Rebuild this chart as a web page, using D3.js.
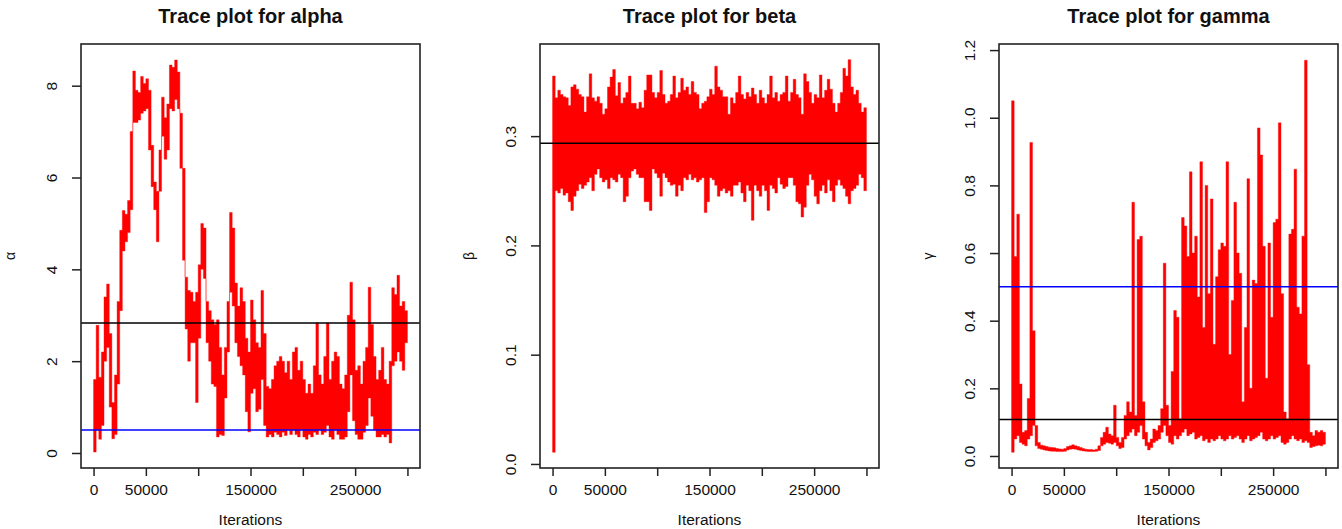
<!DOCTYPE html>
<html><head><meta charset="utf-8">
<script src="https://cdn.jsdelivr.net/npm/d3@7"></script>
<style>
body{margin:0;background:#fff}
svg{display:block}
text{font-family:"Liberation Sans",Arial,sans-serif;fill:#111}
</style>
</head><body>
<svg id="chart" width="1342" height="529"></svg>
<script>
// ---------------- DATA ----------------
const titles = ["Trace plot for alpha", "Trace plot for beta", "Trace plot for gamma"];
const yLabels = ["α", "β", "γ"];
const xLabel = "Iterations";
const xTicks = [0, 50000, 100000, 150000, 200000, 250000, 300000];
const xTickLabels = ["0", "50000", "", "150000", "", "250000", ""];
const alphaTicks = [0, 2, 4, 6, 8];
const alphaTickLabels = ["0", "2", "4", "6", "8"];
const betaTicks = [0, 0.1, 0.2, 0.3];
const betaTickLabels = ["0.0", "0.1", "0.2", "0.3"];
const gammaTicks = [0, 0.2, 0.4, 0.6, 0.8, 1.0, 1.2];
const gammaTickLabels = ["0.0", "0.2", "0.4", "0.6", "0.8", "1.0", "1.2"];

// iterations per bin; each bin holds the low and high of the trace inside it
const binIter = 2500;

const alphaLo = [0.02,0.5,0.3,0.6,2.0,2.3,1.0,0.31,0.4,1.5,
  3.1,4.4,4.6,4.8,5.3,7.2,7.2,7.25,7.4,7.45,
  7.5,6.6,5.8,5.3,4.6,5.7,6.9,6.4,6.6,7.5,
  7.45,7.7,7.5,6.2,4.2,2.7,2.0,2.4,2.4,1.1,
  2.5,4.0,3.8,2.4,2.0,1.5,1.45,0.35,0.4,0.38,
  1.2,2.2,3.5,3.2,2.4,2.1,1.9,1.7,0.9,0.46,
  1.3,1.4,0.9,0.95,1.6,0.6,0.35,0.4,0.35,0.45,
  0.4,0.35,0.45,0.38,0.5,0.4,0.5,0.4,0.35,0.5,
  0.35,0.3,0.4,0.35,0.45,0.4,0.5,0.4,0.45,0.6,
  0.35,0.3,0.5,0.4,0.3,0.3,0.35,0.9,1.7,0.7,
  0.4,0.3,0.3,0.45,0.6,1.2,0.8,0.5,0.35,0.35,
  0.4,0.35,0.4,0.22,1.9,2.0,2.2,2.0,1.8,2.4];
const alphaHi = [1.6,2.78,1.65,2.2,3.4,3.68,2.6,1.1,1.7,3.3,
  4.85,5.28,5.2,5.5,7.0,8.32,7.9,7.85,8.2,8.05,
  8.15,7.9,6.7,5.9,5.7,6.6,7.75,7.3,7.6,8.45,
  8.4,8.56,8.3,7.4,6.2,3.83,3.54,3.5,3.3,3.5,
  4.1,5.0,4.9,3.3,3.1,2.9,2.8,2.9,2.3,1.7,
  2.3,3.3,5.24,4.9,3.7,3.2,3.6,3.3,2.5,2.2,
  3.33,2.9,2.4,2.3,3.54,2.6,1.45,1.4,1.6,1.9,
  2.0,2.1,2.0,1.75,2.0,1.6,2.2,2.3,1.8,2.0,
  1.6,1.3,1.5,1.3,1.9,2.83,1.7,1.5,2.1,2.83,
  1.6,2.0,2.2,2.1,1.5,1.4,1.7,3.0,3.72,2.9,
  1.8,1.9,1.5,2.0,2.3,3.61,2.8,2.1,1.6,1.8,
  2.3,1.6,1.5,2.0,3.6,3.45,3.87,3.2,3.3,3.1];

const betaLo = [0.0107,0.25,0.248,0.252,0.246,0.248,0.24,0.232,0.245,0.25,
  0.256,0.252,0.255,0.258,0.262,0.25,0.265,0.27,0.262,0.258,
  0.26,0.252,0.262,0.26,0.258,0.265,0.262,0.24,0.245,0.262,
  0.268,0.27,0.265,0.262,0.262,0.24,0.24,0.232,0.27,0.266,
  0.262,0.245,0.266,0.262,0.258,0.255,0.256,0.245,0.255,0.25,
  0.262,0.26,0.265,0.26,0.262,0.258,0.26,0.262,0.23,0.24,
  0.262,0.26,0.255,0.245,0.25,0.252,0.248,0.25,0.245,0.255,
  0.255,0.258,0.248,0.24,0.255,0.25,0.223,0.255,0.25,0.245,
  0.255,0.25,0.232,0.255,0.252,0.248,0.262,0.256,0.252,0.254,
  0.262,0.262,0.255,0.24,0.238,0.226,0.235,0.255,0.265,0.26,
  0.245,0.238,0.25,0.255,0.248,0.26,0.25,0.24,0.255,0.26,
  0.255,0.252,0.245,0.238,0.25,0.252,0.255,0.265,0.262,0.25];
const betaHi = [0.355,0.335,0.342,0.338,0.336,0.335,0.328,0.345,0.347,0.343,
  0.338,0.336,0.322,0.336,0.357,0.335,0.332,0.336,0.33,0.32,
  0.325,0.345,0.354,0.361,0.337,0.349,0.33,0.335,0.34,0.355,
  0.33,0.33,0.325,0.331,0.326,0.342,0.356,0.356,0.34,0.335,
  0.34,0.36,0.338,0.33,0.332,0.338,0.355,0.335,0.34,0.353,
  0.342,0.345,0.338,0.35,0.34,0.338,0.325,0.33,0.332,0.336,
  0.343,0.338,0.364,0.345,0.342,0.336,0.336,0.32,0.335,0.33,
  0.34,0.355,0.338,0.334,0.34,0.336,0.344,0.338,0.33,0.342,
  0.335,0.33,0.338,0.355,0.335,0.34,0.332,0.338,0.34,0.355,
  0.332,0.34,0.352,0.338,0.335,0.32,0.357,0.35,0.34,0.33,
  0.338,0.335,0.356,0.335,0.342,0.352,0.343,0.33,0.322,0.33,
  0.34,0.362,0.355,0.37,0.345,0.338,0.342,0.33,0.322,0.326];

const gammaLo = [0.011,0.05,0.06,0.04,0.035,0.03,0.05,0.06,0.09,0.03,
  0.022,0.02,0.018,0.016,0.015,0.014,0.014,0.013,0.013,0.013,
  0.014,0.018,0.02,0.021,0.02,0.018,0.016,0.015,0.014,0.013,
  0.013,0.013,0.014,0.016,0.03,0.035,0.04,0.038,0.035,0.04,
  0.03,0.022,0.025,0.05,0.06,0.07,0.08,0.06,0.07,0.09,
  0.05,0.03,0.018,0.025,0.04,0.045,0.05,0.07,0.09,0.06,
  0.04,0.035,0.06,0.05,0.06,0.07,0.08,0.06,0.065,0.07,
  0.05,0.055,0.06,0.045,0.05,0.04,0.05,0.045,0.05,0.06,
  0.05,0.045,0.05,0.06,0.05,0.055,0.06,0.05,0.04,0.05,
  0.06,0.045,0.05,0.055,0.06,0.07,0.05,0.045,0.05,0.06,
  0.05,0.055,0.06,0.04,0.035,0.04,0.05,0.06,0.05,0.045,
  0.05,0.04,0.045,0.04,0.025,0.028,0.03,0.032,0.03,0.035];
const gammaHi = [1.05,0.59,0.715,0.213,0.07,0.075,0.17,0.927,0.37,0.09,
  0.04,0.032,0.03,0.028,0.026,0.025,0.024,0.022,0.021,0.02,
  0.022,0.028,0.03,0.033,0.03,0.028,0.025,0.022,0.02,0.019,
  0.019,0.018,0.02,0.03,0.055,0.07,0.085,0.065,0.06,0.15,
  0.055,0.04,0.055,0.12,0.16,0.13,0.75,0.12,0.64,0.65,
  0.16,0.07,0.04,0.05,0.08,0.075,0.09,0.14,0.57,0.15,
  0.09,0.25,0.43,0.41,0.11,0.705,0.68,0.59,0.84,0.6,
  0.65,0.47,0.87,0.38,0.8,0.48,0.76,0.33,0.53,0.61,
  0.63,0.62,0.87,0.3,0.46,0.75,0.6,0.54,0.16,0.38,
  0.82,0.2,0.52,0.51,0.97,0.89,0.62,0.23,0.63,0.41,
  0.69,0.7,0.985,0.48,0.13,0.11,0.656,0.67,0.848,0.44,
  0.42,0.65,1.17,0.27,0.07,0.06,0.075,0.07,0.075,0.07];

// reference lines (posterior mean in black, true value in blue)
const alphaMean = 2.83, alphaTrue = 0.5;
const betaMean = 0.2935;
const gammaMean = 0.108, gammaTrue = 0.5;

// ---------------- LAYOUT ----------------
const svg = d3.select("#chart");
const plotTop = 44, plotBottom = 468, plotW = 339;
const panels = [
  {left: 81,  yDom: [-0.327, 8.908], ticks: alphaTicks, tickLabels: alphaTickLabels,
   lo: alphaLo, hi: alphaHi, lines: [{v: alphaMean, c: "#000"}, {v: alphaTrue, c: "#0000ff"}]},
  {left: 540, yDom: [-0.0037, 0.3843], ticks: betaTicks, tickLabels: betaTickLabels,
   lo: betaLo, hi: betaHi, lines: [{v: betaMean, c: "#000"}]},
  {left: 999, yDom: [-0.0355, 1.218], ticks: gammaTicks, tickLabels: gammaTickLabels,
   lo: gammaLo, hi: gammaHi, lines: [{v: gammaTrue, c: "#0000ff"}, {v: gammaMean, c: "#000"}]}
];

panels.forEach((p, k) => {
  const x = d3.scaleLinear().domain([-12000, 312000]).range([p.left, p.left + plotW]);
  const y = d3.scaleLinear().domain(p.yDom).range([plotBottom, plotTop]);
  const g = svg.append("g");

  // trace: min/max envelope of each bin, drawn as a step area
  const bins = p.lo.map((v, i) => ({it: i * binIter, lo: v, hi: p.hi[i]}));
  const last = bins[bins.length - 1];
  bins.push({it: bins.length * binIter, lo: last.lo, hi: last.hi});
  g.append("path")
    .attr("d", d3.area().curve(d3.curveStepAfter)
      .x(d => x(d.it)).y0(d => y(d.lo)).y1(d => y(d.hi))(bins))
    .attr("fill", "#ff0000").attr("stroke", "#ff0000").attr("stroke-width", 0.4);

  // reference lines
  p.lines.forEach(l => {
    g.append("line")
      .attr("x1", p.left).attr("x2", p.left + plotW)
      .attr("y1", y(l.v)).attr("y2", y(l.v))
      .attr("stroke", l.c).attr("stroke-width", 1.5);
  });

  // box
  g.append("rect").attr("x", p.left).attr("y", plotTop)
    .attr("width", plotW).attr("height", plotBottom - plotTop)
    .attr("fill", "none").attr("stroke", "#222").attr("stroke-width", 1.6);

  // x axis
  const xa = g.append("g").attr("transform", `translate(0,${plotBottom})`)
    .call(d3.axisBottom(x).tickValues(xTicks).tickSize(8).tickPadding(8)
      .tickFormat((d, i) => xTickLabels[i]));
  xa.select(".domain").remove();
  xa.selectAll("line").attr("stroke", "#222").attr("stroke-width", 1.5);
  xa.selectAll("text").attr("font-size", "15.5px").attr("fill", "#111")
    .attr("font-family", "'Liberation Sans', Arial, sans-serif");

  // y axis
  const ya = g.append("g").attr("transform", `translate(${p.left},0)`)
    .call(d3.axisLeft(y).tickValues(p.ticks).tickSize(9)
      .tickFormat((d, i) => p.tickLabels[i]));
  ya.select(".domain").remove();
  ya.selectAll("line").attr("stroke", "#222").attr("stroke-width", 1.5);
  ya.selectAll("text").attr("font-size", "15.5px").attr("fill", "#111")
    .attr("font-family", "'Liberation Sans', Arial, sans-serif")
    .attr("x", null).attr("dy", null)
    .attr("text-anchor", "middle")
    .attr("transform", "translate(-24,0) rotate(-90)");

  // titles and labels
  const cx = p.left + plotW / 2;
  svg.append("text").attr("x", cx).attr("y", 23).attr("text-anchor", "middle")
    .attr("font-size", "20px").attr("font-weight", "bold").text(titles[k]);
  svg.append("text").attr("x", cx).attr("y", 525).attr("text-anchor", "middle")
    .attr("font-size", "15.5px").text(xLabel);
  svg.append("text").attr("transform", `translate(${p.left - 66},256) rotate(-90)`)
    .attr("text-anchor", "middle").attr("font-size", "14px").attr("fill", "#333")
    .text(yLabels[k]);
});
</script>
</body></html>
